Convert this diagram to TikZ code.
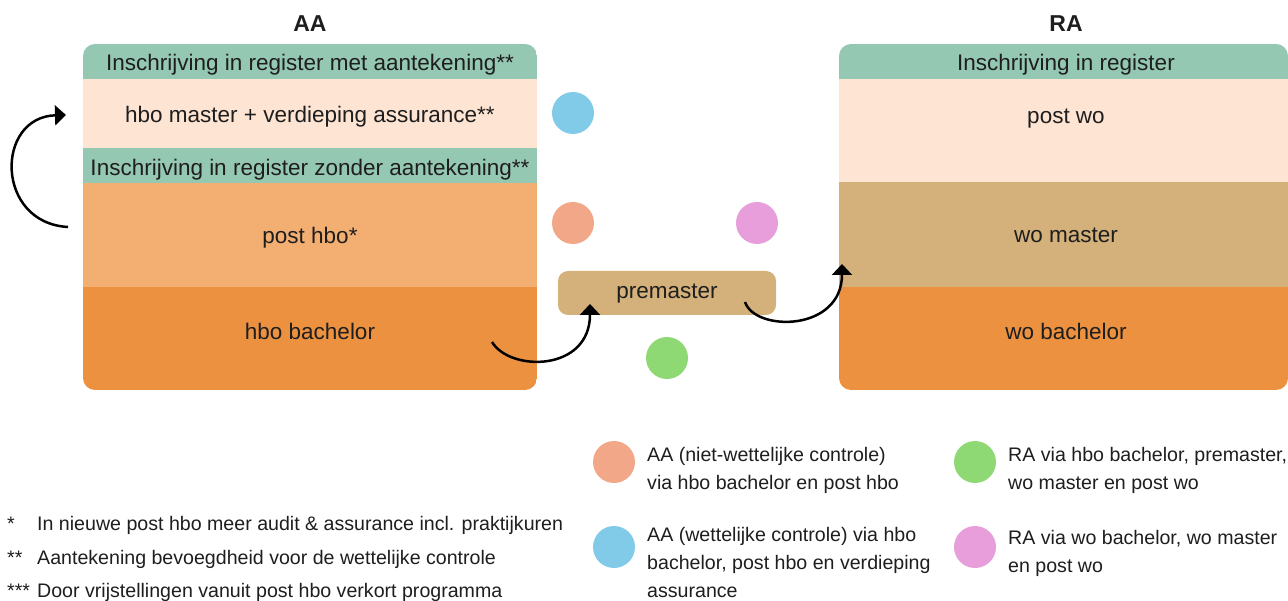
\documentclass[tikz,border=0pt]{standalone}
\usepackage{fontspec}
\setmainfont{Liberation Sans}
\usepackage{xcolor}
\usetikzlibrary{arrows.meta}

\definecolor{regGreen}{HTML}{95C8B3}
\definecolor{lightPeach}{HTML}{FDE4D3}
\definecolor{postOrange}{HTML}{F3AE71}
\definecolor{bachOrange}{HTML}{EC913F}
\definecolor{tanMaster}{HTML}{D4B07A}
\definecolor{dotBlue}{HTML}{82CBE8}
\definecolor{dotSalmon}{HTML}{F2A888}
\definecolor{dotPink}{HTML}{E79EDB}
\definecolor{dotGreen}{HTML}{8FD975}
\definecolor{inkGray}{HTML}{1E1E1E}

\begin{document}
\begin{tikzpicture}[x=1pt, y=-1pt,
    title/.style={font=\fontsize{23}{27}\selectfont\bfseries, text=inkGray, anchor=base},
    bandtext/.style={font=\fontsize{22.5}{27}\selectfont, text=inkGray, inner sep=0pt, anchor=base},
    legtext/.style={font=\fontsize{19.6}{28}\selectfont, text=inkGray, align=left, inner sep=0pt, anchor=base west},
    dot/.style={circle, minimum size=42pt, inner sep=0pt},
    flow/.style={-{Triangle[width=20pt,length=11pt]}, line width=2.5pt}]

    \useasboundingbox (0,0) rectangle (1288,601);

    % AA column
    \node[title] (aaTitle) at (310,32) {AA};
    \begin{scope}
        \clip[rounded corners=12pt] (83,44) rectangle (537,390);
        \fill[regGreen]   (83,44)  rectangle (537,79);
        \fill[lightPeach] (83,79)  rectangle (537,148);
        \fill[regGreen]   (83,148) rectangle (537,183);
        \fill[postOrange] (83,183) rectangle (537,287);
        \fill[bachOrange] (83,287) rectangle (537,390);
    \end{scope}
    \node[bandtext] (aaRegMet)  at (310,71)  {Inschrijving in register met aantekening**};
    \node[bandtext] (aaMaster)  at (310,123) {hbo master + verdieping assurance**};
    \node[bandtext] (aaRegZon)  at (310,176) {Inschrijving in register zonder aantekening**};
    \node[bandtext] (aaPost)    at (310,244) {post hbo*};
    \node[bandtext] (aaBach)    at (310,340) {hbo bachelor};

    % RA column
    \node[title] (raTitle) at (1066,32) {RA};
    \begin{scope}
        \clip[rounded corners=12pt] (839,44) rectangle (1288,390);
        \fill[regGreen]   (839,44)  rectangle (1288,79);
        \fill[lightPeach] (839,79)  rectangle (1288,182);
        \fill[tanMaster]  (839,182) rectangle (1288,287);
        \fill[bachOrange] (839,287) rectangle (1288,390);
    \end{scope}
    \node[bandtext] (raReg)    at (1066,71)  {Inschrijving in register};
    \node[bandtext] (raPost)   at (1066,124) {post wo};
    \node[bandtext] (raMaster) at (1066,243) {wo master};
    \node[bandtext] (raBach)   at (1066,340) {wo bachelor};

    % premaster and route dots
    \node[fill=tanMaster, rounded corners=10pt, minimum width=218pt, minimum height=44pt]
        (premaster) at (667,293) {};
    \node[bandtext] (premasterTxt) at (667,299) {premaster};
    \node[dot, fill=dotBlue]   (aaStat)    at (573,113) {};
    \node[dot, fill=dotSalmon] (aaNonStat) at (573,223) {};
    \node[dot, fill=dotPink]   (raWo)      at (757,223) {};
    \node[dot, fill=dotGreen]  (raHbo)     at (667,358) {};

    % arrow ends
    \coordinate (loopFrom) at (68,227);
    \coordinate (loopTo)   at (66,115);
    \coordinate (bachOut)  at (492,342);
    \coordinate (pmIn)     at (590,304);
    \coordinate (pmOut)    at (745,302);
    \coordinate (woIn)     at (842,264);

    \draw[flow] (loopFrom) .. controls (-5,223) and (-5,117) .. (loopTo);
    \draw[flow] (bachOut) .. controls (510,372) and (590,372) .. (pmIn);
    \draw[flow] (pmOut) .. controls (755,332) and (842,332) .. (woIn);

    % legend
    \node[dot, fill=dotSalmon] (legNonStat) at (614,462) {};
    \node[dot, fill=dotBlue]   (legStat)    at (614,547) {};
    \node[dot, fill=dotGreen]  (legRaHbo)   at (975,462) {};
    \node[dot, fill=dotPink]   (legRaWo)    at (975,547) {};
    \node[legtext] (legNonStatTxt) at (647,489) {AA (niet-wettelijke controle)\\via hbo bachelor en post hbo};
    \node[legtext] (legStatTxt)    at (647,597) {AA (wettelijke controle) via hbo\\bachelor, post hbo en verdieping\\assurance};
    \node[legtext] (legRaHboTxt)   at (1008,489) {RA via hbo bachelor, premaster,\\wo master en post wo};
    \node[legtext] (legRaWoTxt)    at (1008,572) {RA via wo bachelor, wo master\\en post wo};

    % footnotes
    \node[legtext] (fnOneMark)   at (7,530) {*};
    \node[legtext] (fnTwoMark)   at (7,564) {**};
    \node[legtext] (fnThreeMark) at (7,597) {***};
    \node[legtext] (fnOne)   at (37,530) {In nieuwe post hbo meer audit \& assurance incl. praktijkuren};
    \node[legtext] (fnTwo)   at (37,564) {Aantekening bevoegdheid voor de wettelijke controle};
    \node[legtext] (fnThree) at (37,597) {Door vrijstellingen vanuit post hbo verkort programma};

\end{tikzpicture}
\end{document}
